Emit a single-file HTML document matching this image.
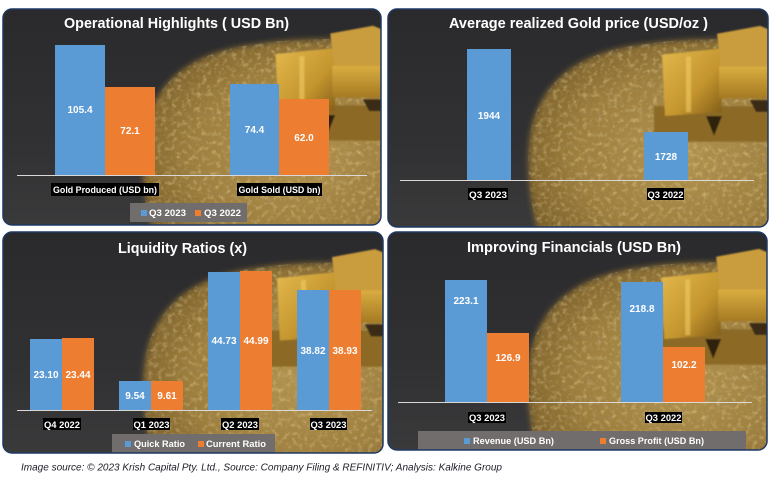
<!DOCTYPE html>
<html><head><meta charset="utf-8"><style>
html,body{margin:0;padding:0;background:#fff;}
svg{display:block;}
text{font-family:"Liberation Sans",sans-serif;}
.t{font-weight:bold;font-size:14.5px;fill:#fff;}
.v{font-weight:bold;font-size:10px;fill:#fff;text-anchor:middle;}
.c{font-weight:bold;font-size:9.5px;fill:#fff;text-anchor:middle;}
.l{font-weight:bold;font-size:9.5px;fill:#fff;}
</style></head><body>
<svg width="775" height="478" viewBox="0 0 775 478" xmlns="http://www.w3.org/2000/svg">
<defs>
  <linearGradient id="dark" x1="0" y1="0" x2="0" y2="1">
    <stop offset="0" stop-color="#2a2a2c"/>
    <stop offset="0.6" stop-color="#313133"/>
    <stop offset="1" stop-color="#3b3b3c"/>
  </linearGradient>
  <radialGradient id="pile" cx="0.62" cy="0.6" r="0.65">
    <stop offset="0" stop-color="#b39450"/>
    <stop offset="0.65" stop-color="#9e7f3e"/>
    <stop offset="1" stop-color="#80642c"/>
  </radialGradient>
  <linearGradient id="barA" x1="0" y1="0" x2="1" y2="1">
    <stop offset="0" stop-color="#e3b84c"/>
    <stop offset="0.6" stop-color="#c4952e"/>
    <stop offset="1" stop-color="#7e5a18"/>
  </linearGradient>
  <linearGradient id="barB" x1="0" y1="0" x2="0" y2="1">
    <stop offset="0" stop-color="#d9ad40"/>
    <stop offset="1" stop-color="#a57a22"/>
  </linearGradient>
  <filter id="b3" x="-20%" y="-20%" width="140%" height="140%"><feGaussianBlur stdDeviation="3"/></filter>
  <filter id="b1"><feGaussianBlur stdDeviation="0.8"/></filter>
  <filter id="grain" x="0" y="0" width="100%" height="100%">
    <feTurbulence type="fractalNoise" baseFrequency="0.2" numOctaves="2" seed="5"/>
    <feColorMatrix type="matrix" values="0 0 0 0 0.9  0 0 0 0 0.76  0 0 0 0 0.4  2.4 0 0 0 -1.15"/>
  </filter>
  <filter id="grainD" x="0" y="0" width="100%" height="100%">
    <feTurbulence type="fractalNoise" baseFrequency="0.2" numOctaves="2" seed="11"/>
    <feColorMatrix type="matrix" values="0 0 0 0 0.33  0 0 0 0 0.24  0 0 0 0 0.1  2.4 0 0 0 -1.15"/>
  </filter>
  <clipPath id="pileClip"><path d="M150 225 C138 180 136 130 150 100 C165 66 196 46 240 38 C282 31 322 28 390 33 L390 225 Z"/></clipPath>
  <g id="bg">
    <rect x="-5" y="-5" width="395" height="235" fill="url(#dark)"/>
    <path d="M150 225 C138 180 136 130 150 100 C165 66 196 46 240 38 C282 31 322 28 390 33 L390 225 Z" fill="url(#pile)" filter="url(#b3)"/>
    <g clip-path="url(#pileClip)" opacity="0.45">
      <rect x="130" y="25" width="260" height="200" filter="url(#grain)"/>
      <rect x="130" y="25" width="260" height="200" filter="url(#grainD)"/>
    </g>
    <g filter="url(#b1)">
      <rect x="266" y="98" width="120" height="36" fill="#8c6a26"/>
      <polygon points="274,46 332,40 334,104 277,108" fill="url(#barA)"/>
      <rect x="298" y="48" width="5" height="56" fill="#f0cc66" opacity="0.6"/>
      <polygon points="329,25 372,17 384,22 384,58 333,62" fill="#c99c3c"/>
      <rect x="331" y="58" width="53" height="32" fill="url(#barB)"/>
      <polygon points="318,108 334,108 326,128" fill="#2e2210"/>
      <polygon points="362,92 384,92 384,104 368,104" fill="#3a2c12"/>
    </g>
  </g>
  <clipPath id="c1"><rect x="3" y="9" width="378" height="216" rx="9"/></clipPath>
  <clipPath id="c2"><rect x="388" y="9" width="380" height="218" rx="9"/></clipPath>
  <clipPath id="c3"><rect x="3" y="232" width="380" height="221" rx="9"/></clipPath>
  <clipPath id="c4"><rect x="388" y="232" width="379" height="218" rx="9"/></clipPath>
</defs>

<!-- Panel 1 -->
<g clip-path="url(#c1)">
  <use href="#bg" transform="translate(3,9) scale(0.9947,0.9818)"/>
  <line x1="17" y1="175.5" x2="367" y2="175.5" stroke="#d9d9d9" stroke-width="1"/>
  <rect x="55" y="45" width="50" height="130" fill="#5b9bd5"/>
  <rect x="105" y="87" width="50" height="88" fill="#ed7d31"/>
  <rect x="230" y="84" width="49" height="91" fill="#5b9bd5"/>
  <rect x="279" y="99" width="50" height="76" fill="#ed7d31"/>
  <text class="v" x="80" y="113">105.4</text>
  <text class="v" x="130" y="134">72.1</text>
  <text class="v" x="254.5" y="133">74.4</text>
  <text class="v" x="304" y="141">62.0</text>
  <rect x="51" y="183" width="108" height="13" fill="#000"/>
  <text class="c" x="105" y="193" textLength="104" lengthAdjust="spacingAndGlyphs">Gold Produced (USD bn)</text>
  <rect x="237" y="183" width="85" height="13" fill="#000"/>
  <text class="c" x="279.5" y="193" textLength="82" lengthAdjust="spacingAndGlyphs">Gold Sold (USD bn)</text>
  <rect x="130" y="203" width="117" height="19" fill="#716d6c"/>
  <rect x="141" y="210" width="6" height="6" fill="#5b9bd5"/>
  <text class="l" x="149" y="216" textLength="37" lengthAdjust="spacingAndGlyphs">Q3 2023</text>
  <rect x="195" y="210" width="6" height="6" fill="#ed7d31"/>
  <text class="l" x="204" y="216" textLength="37" lengthAdjust="spacingAndGlyphs">Q3 2022</text>
  <text class="t" x="64" y="28" textLength="225" lengthAdjust="spacingAndGlyphs">Operational Highlights ( USD Bn)</text>
</g>
<rect x="3" y="9" width="378" height="216" rx="9" fill="none" stroke="#1f3864" stroke-width="1.5"/>

<!-- Panel 2 -->
<g clip-path="url(#c2)">
  <use href="#bg" transform="translate(388,9) scale(1,0.9909)"/>
  <line x1="400" y1="180.5" x2="754" y2="180.5" stroke="#d9d9d9" stroke-width="1"/>
  <rect x="467" y="49" width="44" height="131" fill="#5b9bd5"/>
  <rect x="644" y="132" width="44" height="48" fill="#5b9bd5"/>
  <text class="v" x="489" y="119">1944</text>
  <text class="v" x="666" y="160">1728</text>
  <rect x="468" y="188" width="40" height="12" fill="#000"/>
  <text class="c" x="488" y="198" textLength="38" lengthAdjust="spacingAndGlyphs">Q3 2023</text>
  <rect x="647" y="188" width="37" height="12" fill="#000"/>
  <text class="c" x="665.5" y="198" textLength="36" lengthAdjust="spacingAndGlyphs">Q3 2022</text>
  <text class="t" x="449" y="28" textLength="259" lengthAdjust="spacingAndGlyphs">Average realized Gold price (USD/oz )</text>
</g>
<rect x="388" y="9" width="380" height="218" rx="9" fill="none" stroke="#1f3864" stroke-width="1.5"/>

<!-- Panel 3 -->
<g clip-path="url(#c3)">
  <use href="#bg" transform="translate(3,232) scale(1,1.0045)"/>
  <line x1="17" y1="410.5" x2="372" y2="410.5" stroke="#d9d9d9" stroke-width="1"/>
  <rect x="30" y="339" width="32" height="71" fill="#5b9bd5"/>
  <rect x="62" y="338" width="32" height="72" fill="#ed7d31"/>
  <rect x="119" y="381" width="32" height="29" fill="#5b9bd5"/>
  <rect x="151" y="381" width="32" height="29" fill="#ed7d31"/>
  <rect x="208" y="272" width="32" height="138" fill="#5b9bd5"/>
  <rect x="240" y="271" width="32" height="139" fill="#ed7d31"/>
  <rect x="297" y="290" width="32" height="120" fill="#5b9bd5"/>
  <rect x="329" y="290" width="32" height="120" fill="#ed7d31"/>
  <text class="v" x="46" y="378">23.10</text>
  <text class="v" x="78" y="378">23.44</text>
  <text class="v" x="135" y="399">9.54</text>
  <text class="v" x="167" y="399">9.61</text>
  <text class="v" x="224" y="344">44.73</text>
  <text class="v" x="256" y="344">44.99</text>
  <text class="v" x="313" y="354">38.82</text>
  <text class="v" x="345" y="354">38.93</text>
  <rect x="43" y="418" width="38" height="12" fill="#000"/>
  <text class="c" x="62" y="428" textLength="36" lengthAdjust="spacingAndGlyphs">Q4 2022</text>
  <rect x="133" y="418" width="37" height="12" fill="#000"/>
  <text class="c" x="151.5" y="428" textLength="36" lengthAdjust="spacingAndGlyphs">Q1 2023</text>
  <rect x="221" y="418" width="38" height="12" fill="#000"/>
  <text class="c" x="240" y="428" textLength="36" lengthAdjust="spacingAndGlyphs">Q2 2023</text>
  <rect x="310" y="418" width="37" height="12" fill="#000"/>
  <text class="c" x="328.5" y="428" textLength="36" lengthAdjust="spacingAndGlyphs">Q3 2023</text>
  <rect x="112" y="434" width="163" height="22" fill="#716d6c"/>
  <rect x="125" y="441" width="6" height="6" fill="#5b9bd5"/>
  <text class="l" x="134" y="447" textLength="51" lengthAdjust="spacingAndGlyphs">Quick Ratio</text>
  <rect x="198" y="441" width="6" height="6" fill="#ed7d31"/>
  <text class="l" x="206" y="447" textLength="60" lengthAdjust="spacingAndGlyphs">Current Ratio</text>
  <text class="t" x="118" y="253" textLength="129" lengthAdjust="spacingAndGlyphs">Liquidity Ratios (x)</text>
</g>
<rect x="3" y="232" width="380" height="221" rx="9" fill="none" stroke="#1f3864" stroke-width="1.5"/>

<!-- Panel 4 -->
<g clip-path="url(#c4)">
  <use href="#bg" transform="translate(388,232) scale(0.9974,0.9909)"/>
  <line x1="398" y1="402.5" x2="752" y2="402.5" stroke="#d9d9d9" stroke-width="1"/>
  <rect x="445" y="280" width="42" height="122" fill="#5b9bd5"/>
  <rect x="487" y="333" width="42" height="69" fill="#ed7d31"/>
  <rect x="621" y="282" width="42" height="120" fill="#5b9bd5"/>
  <rect x="663" y="347" width="42" height="55" fill="#ed7d31"/>
  <text class="v" x="466" y="304">223.1</text>
  <text class="v" x="508" y="361">126.9</text>
  <text class="v" x="642" y="312">218.8</text>
  <text class="v" x="684" y="368">102.2</text>
  <rect x="468" y="412" width="38" height="11" fill="#000"/>
  <text class="c" x="487" y="421" textLength="36" lengthAdjust="spacingAndGlyphs">Q3 2023</text>
  <rect x="645" y="412" width="37" height="11" fill="#000"/>
  <text class="c" x="663.5" y="421" textLength="36" lengthAdjust="spacingAndGlyphs">Q3 2022</text>
  <rect x="418" y="431" width="328" height="21" fill="#716d6c"/>
  <rect x="464" y="438" width="6" height="6" fill="#5b9bd5"/>
  <text class="l" x="473" y="444" textLength="81" lengthAdjust="spacingAndGlyphs">Revenue (USD Bn)</text>
  <rect x="600" y="438" width="6" height="6" fill="#ed7d31"/>
  <text class="l" x="609" y="444" textLength="95" lengthAdjust="spacingAndGlyphs">Gross Profit (USD Bn)</text>
  <text class="t" x="467" y="252" textLength="214" lengthAdjust="spacingAndGlyphs">Improving Financials (USD Bn)</text>
</g>
<rect x="388" y="232" width="379" height="218" rx="9" fill="none" stroke="#1f3864" stroke-width="1.5"/>

<text x="21" y="470.5" font-style="italic" font-size="10" fill="#1c1c28" textLength="481" lengthAdjust="spacingAndGlyphs">Image source: © 2023 Krish Capital Pty. Ltd., Source: Company Filing &amp; REFINITIV; Analysis: Kalkine Group</text>
</svg>
</body></html>
